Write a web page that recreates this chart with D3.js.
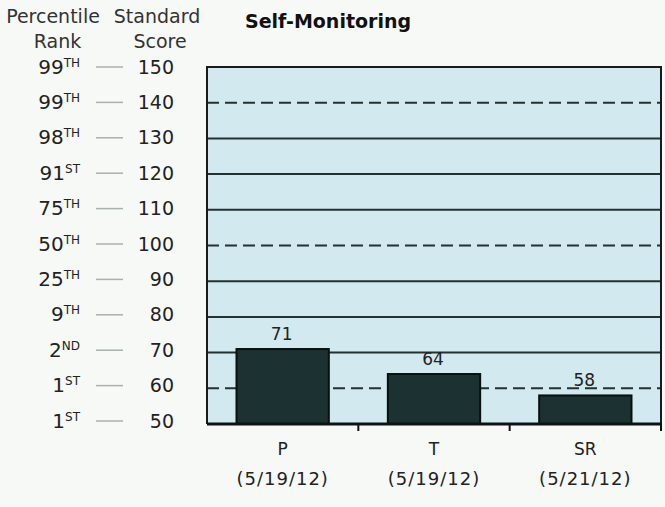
<!DOCTYPE html>
<html>
<head>
<meta charset="utf-8">
<script src="https://cdn.jsdelivr.net/npm/d3@7"></script>
<style>
  html, body { margin: 0; padding: 0; background: #f7f9f7; }
  svg { display: block; }
  text { font-family: "DejaVu Sans", Verdana, sans-serif; }
</style>
</head>
<body>
<svg id="chart" width="665" height="507"></svg>
<script>
const categories = ["P", "T", "SR"];
const dates = ["(5/19/12)", "(5/19/12)", "(5/21/12)"];
const values = [71, 64, 58];
const scoreTicks = [150, 140, 130, 120, 110, 100, 90, 80, 70, 60, 50];
const percentiles = ["99", "99", "98", "91", "75", "50", "25", "9", "2", "1", "1"];
const suffixes = ["TH", "TH", "TH", "ST", "TH", "TH", "TH", "TH", "ND", "ST", "ST"];
const dashedTicks = [140, 100, 60];
const title = "Self-Monitoring";

const svg = d3.select("#chart");
const pLeft = 207, pRight = 661, pTop = 67, pBottom = 424;

const y = d3.scaleLinear().domain([50, 150]).range([pBottom, pTop]);
const yLabel = d3.scaleLinear().domain([50, 150]).range([420.5, 66.5]);
const x = d3.scaleBand().domain(categories).range([pLeft, pRight])
  .paddingInner(0.39).paddingOuter(0.195);

// plot background
svg.append("rect").attr("x", pLeft).attr("y", pTop)
  .attr("width", pRight - pLeft).attr("height", pBottom - pTop)
  .attr("fill", "#d2e9ef");

// gridlines
const grid = scoreTicks.filter(v => v !== 50 && v !== 150);
svg.append("g").selectAll("line").data(grid).join("line")
  .attr("x1", pLeft).attr("x2", pRight)
  .attr("y1", d => y(d)).attr("y2", d => y(d))
  .attr("stroke", "#253030")
  .attr("stroke-width", 2)
  .attr("stroke-dasharray", d => dashedTicks.includes(d) ? "12,6" : null);

// bars
svg.append("g").selectAll("rect").data(values).join("rect")
  .attr("x", (d, i) => x(categories[i]))
  .attr("y", d => y(d))
  .attr("width", x.bandwidth())
  .attr("height", d => y(50) - y(d))
  .attr("fill", "#1c3131")
  .attr("stroke", "#0a1010")
  .attr("stroke-width", 2);

// value labels
svg.append("g").selectAll("text").data(values).join("text")
  .attr("x", (d, i) => x(categories[i]) + x.bandwidth() / 2 - 1)
  .attr("y", d => y(d) - 9)
  .attr("text-anchor", "middle")
  .attr("font-size", 17)
  .attr("fill", "#222")
  .text(d => d);

// plot border (left, top, right)
svg.append("path")
  .attr("d", `M${pLeft},${pBottom} V${pTop} H${pRight} V${pBottom}`)
  .attr("fill", "none").attr("stroke", "#1a1a1a").attr("stroke-width", 2);

// bottom axis
const step = x.step();
const xAxis = d3.axisBottom(x).tickSize(0).tickFormat("");
const gx = svg.append("g").attr("transform", `translate(0,${pBottom})`).call(xAxis);
gx.select(".domain").attr("stroke", "#111").attr("stroke-width", 3)
  .attr("d", `M${pLeft},0 H${pRight}`);
const boundaries = categories.slice(1).map(c => x(c) - step * x.paddingInner() / 2).concat([pRight]);
gx.selectAll(".bnd").data(boundaries).join("line").attr("class", "bnd")
  .attr("x1", d => d).attr("x2", d => d).attr("y1", -1).attr("y2", 7)
  .attr("stroke", "#111").attr("stroke-width", 2);

// category labels
const lab = svg.append("g").selectAll("g").data(categories).join("g")
  .attr("transform", c => `translate(${x(c) + x.bandwidth() / 2},0)`);
lab.append("text").attr("y", 455).attr("text-anchor", "middle")
  .attr("font-size", 17).attr("fill", "#222").text(c => c);
lab.append("text").attr("y", 485).attr("text-anchor", "middle")
  .attr("font-size", 18).attr("letter-spacing", 1).attr("fill", "#222").text((c, i) => dates[i]);

// title
svg.append("text").attr("x", 245).attr("y", 28)
  .attr("font-size", 19).attr("font-weight", "bold").attr("fill", "#111")
  .text(title);

// left headers
const hdr = svg.append("g").attr("font-size", 19).attr("fill", "#333").attr("text-anchor", "middle");
hdr.append("text").attr("x", 53).attr("y", 23).text("Percentile");
hdr.append("text").attr("x", 57.5).attr("y", 48).text("Rank");
hdr.append("text").attr("x", 157).attr("y", 23).text("Standard");
hdr.append("text").attr("x", 160).attr("y", 48).text("Score");

// left scale rows
const rows = svg.append("g").selectAll("g").data(scoreTicks).join("g")
  .attr("transform", d => `translate(0,${yLabel(d)})`);
rows.append("text").attr("x", 174).attr("y", 7).attr("text-anchor", "end")
  .attr("font-size", 19).attr("fill", "#222").text(d => d);
rows.append("line").attr("x1", 96).attr("x2", 123).attr("y1", 0.5).attr("y2", 0.5)
  .attr("stroke", "#a9b0b0").attr("stroke-width", 1.5);
const pt = rows.append("text").attr("x", 80).attr("y", 7).attr("text-anchor", "end")
  .attr("fill", "#222");
pt.append("tspan").attr("font-size", 20).text((d, i) => percentiles[i]);
pt.append("tspan").attr("font-size", 12).attr("dy", -7).text((d, i) => suffixes[i]);
</script>
</body>
</html>
